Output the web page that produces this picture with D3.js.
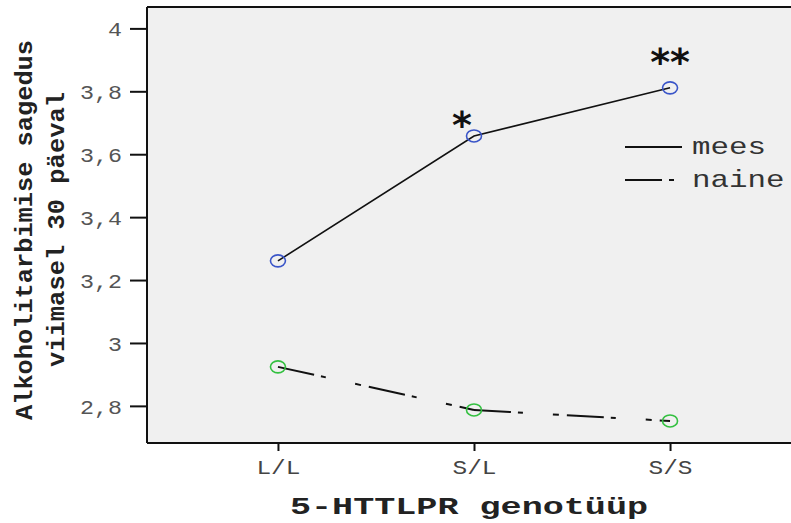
<!DOCTYPE html>
<html><head><meta charset="utf-8">
<script src="https://cdn.jsdelivr.net/npm/d3@7"></script>
<style>body{margin:0;background:#fff}svg{display:block}</style>
</head><body>
<svg id="c" width="791" height="523"></svg>
<script>
const categories = ["L/L", "S/L", "S/S"];
const meesValues = [3.261, 3.658, 3.811];
const naineValues = [2.924, 2.787, 2.752];
const yTicks = [2.8, 3, 3.2, 3.4, 3.6, 3.8, 4];
const seriesNames = ["mees", "naine"];
const markers = ["", "*", "**"];

(function(){
const svg = d3.select("#c");
const pLeft = 147, pTop = 7, pBottom = 443, pRight = 801;
const mono = "'Liberation Mono', 'DejaVu Sans Mono', monospace";

const x = d3.scalePoint().domain(categories).range([pLeft, pRight]).padding(0.668);
const y = d3.scaleLinear().domain([2.682, 4.068]).range([pBottom, pTop]);

svg.append("rect").attr("x", pLeft).attr("y", pTop).attr("width", pRight - pLeft).attr("height", pBottom - pTop).attr("fill", "#f0f0f0");

svg.append("line").attr("x1", pLeft).attr("x2", 791).attr("y1", pTop).attr("y2", pTop).attr("stroke", "#111").attr("stroke-width", 2);

const yAxis = d3.axisLeft(y).tickValues(yTicks).tickSize(17).tickSizeOuter(0)
  .tickFormat(d => String(d).replace(".", ","));
const gy = svg.append("g").attr("transform", `translate(${pLeft},0)`).call(yAxis);
gy.select(".domain").attr("stroke", "#111").attr("stroke-width", 2).attr("d", `M0,${pTop}V${pBottom}`);
gy.selectAll(".tick line").attr("stroke", "#111").attr("stroke-width", 2);
gy.selectAll(".tick text").attr("x", -25).attr("dy", "0.36em")
  .attr("font-family", mono).attr("font-size", 20).attr("fill", "#555")
  .each(function(){ const n = this.textContent.length; d3.select(this).attr("textLength", n * 14).attr("lengthAdjust", "spacingAndGlyphs"); });

const xAxis = d3.axisBottom(x).tickSize(8).tickSizeOuter(0);
const gx = svg.append("g").attr("transform", `translate(0,${pBottom})`).call(xAxis);
gx.select(".domain").attr("stroke", "#111").attr("stroke-width", 2).attr("d", `M${pLeft},0H791`);
gx.selectAll(".tick line").attr("stroke", "#111").attr("stroke-width", 2);
gx.selectAll(".tick text").attr("y", 17).attr("dy", "0.71em")
  .attr("font-family", mono).attr("font-size", 20).attr("fill", "#444")
  .attr("textLength", 44).attr("lengthAdjust", "spacingAndGlyphs");

svg.append("text").attr("x", 469).attr("y", 514).attr("text-anchor", "middle")
  .attr("font-family", mono).attr("font-weight", "bold").attr("font-size", 24).attr("fill", "#222")
  .attr("textLength", 358).attr("lengthAdjust", "spacingAndGlyphs").text("5-HTTLPR genotüüp");
svg.append("text").attr("transform", "translate(32,230) rotate(-90)").attr("text-anchor", "middle")
  .attr("font-family", mono).attr("font-weight", "bold").attr("font-size", 24).attr("fill", "#222")
  .attr("textLength", 380).attr("lengthAdjust", "spacingAndGlyphs").text("Alkoholitarbimise sagedus");
svg.append("text").attr("transform", "translate(64,229.5) rotate(-90)").attr("text-anchor", "middle")
  .attr("font-family", mono).attr("font-weight", "bold").attr("font-size", 24).attr("fill", "#222")
  .attr("textLength", 275).attr("lengthAdjust", "spacingAndGlyphs").text("viimasel 30 päeval");

const line = d3.line().x((d, i) => x(categories[i])).y(d => y(d));
const dash = "37,7,5,30,6,8";
svg.append("path").datum(meesValues).attr("d", line).attr("fill", "none").attr("stroke", "#111").attr("stroke-width", 1.6);
for (let i = 0; i < naineValues.length - 1; i++) {
  svg.append("line").attr("x1", x(categories[i])).attr("y1", y(naineValues[i]))
    .attr("x2", x(categories[i + 1])).attr("y2", y(naineValues[i + 1]))
    .attr("stroke", "#111").attr("stroke-width", 2).attr("stroke-dasharray", dash);
}

svg.selectAll(".m1").data(meesValues).join("ellipse")
  .attr("cx", (d, i) => x(categories[i])).attr("cy", d => y(d)).attr("rx", 7.5).attr("ry", 6)
  .attr("fill", "none").attr("stroke", "#3a55c8").attr("stroke-width", 1.6);
svg.selectAll(".m2").data(naineValues).join("ellipse")
  .attr("cx", (d, i) => x(categories[i])).attr("cy", d => y(d)).attr("rx", 7.5).attr("ry", 6)
  .attr("fill", "none").attr("stroke", "#33c040").attr("stroke-width", 1.6);

const sigDx = [0, -12, 0], sigDy = [0, 2, -13];
svg.selectAll(".sig").data(meesValues).join("text")
  .attr("x", (d, i) => x(categories[i]) + sigDx[i]).attr("y", (d, i) => y(d) + sigDy[i])
  .attr("text-anchor", "middle").attr("font-family", "'DejaVu Sans', sans-serif").attr("font-weight", "bold")
  .attr("font-size", 38).attr("fill", "#111").text((d, i) => markers[i]);

const legY = [147, 180];
svg.append("line").attr("x1", 625).attr("x2", 682).attr("y1", legY[0]).attr("y2", legY[0]).attr("stroke", "#111").attr("stroke-width", 2);
svg.append("line").attr("x1", 625).attr("x2", 675).attr("y1", legY[1]).attr("y2", legY[1]).attr("stroke", "#111").attr("stroke-width", 2).attr("stroke-dasharray", dash);
svg.selectAll(".leg").data(seriesNames).join("text")
  .attr("x", 692).attr("y", (d, i) => legY[i] + 7)
  .attr("font-family", mono).attr("font-size", 24).attr("fill", "#333")
  .attr("textLength", d => d.length * 18.5).attr("lengthAdjust", "spacingAndGlyphs").text(d => d);
})();
</script>
</body></html>
